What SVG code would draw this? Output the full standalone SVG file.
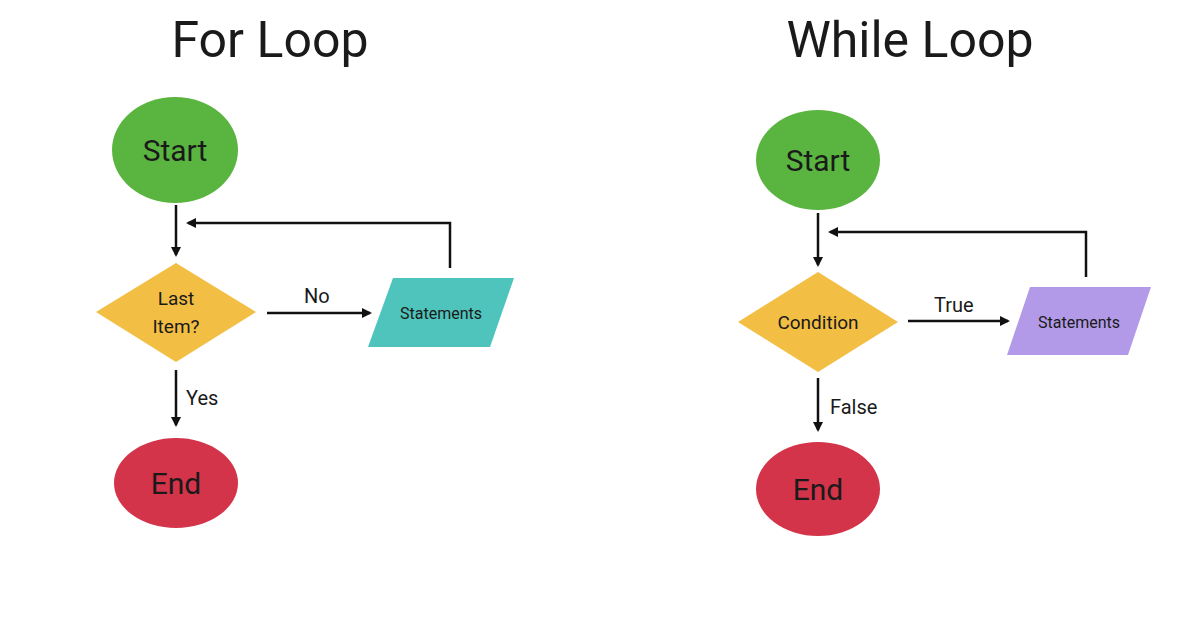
<svg xmlns="http://www.w3.org/2000/svg" width="1196" height="628" viewBox="0 0 1196 628">
<style>
text{font-family:"Roboto","Liberation Sans",sans-serif;fill:#1a1a1a}
.t{font-size:50px;text-anchor:middle}
.n{font-size:30px;text-anchor:middle;dominant-baseline:central}
.s{font-size:19px;text-anchor:middle;dominant-baseline:central}
.l{font-size:20px}
.c{fill:none;stroke:#111;stroke-width:2.5;marker-end:url(#a)}
</style>
<defs><marker id="a" markerWidth="10" markerHeight="10" refX="8" refY="5" orient="auto" markerUnits="userSpaceOnUse"><path d="M0,0 L10,5 L0,10 z" fill="#111"/></marker></defs>
<rect width="1196" height="628" fill="#fff"/>
<text class="t" x="270" y="57">For Loop</text>
<text class="t" x="910" y="57">While Loop</text>
<g id="connectors">
<path class="c" d="M176,205 V255"/>
<path class="c" d="M267,313 H370"/>
<path class="c" d="M450,268 V223 H188"/>
<path class="c" d="M176,370 V425"/>
<path class="c" d="M818,213 V265"/>
<path class="c" d="M908,321 H1008"/>
<path class="c" d="M1086,277 V232 H830"/>
<path class="c" d="M818,378 V430"/>
</g>
<text class="l" x="304" y="303">No</text>
<text class="l" x="186" y="405">Yes</text>
<text class="l" x="934" y="312">True</text>
<text class="l" x="830" y="414">False</text>
<g id="start1"><ellipse cx="175" cy="150" rx="63" ry="53" fill="#5ab540"/><text class="n" x="175" y="150">Start</text></g>
<g id="cond1"><polygon points="176,263 256,312 176,362 96,312" fill="#f2bf44"/><text class="s" x="176" y="298">Last</text><text class="s" x="176" y="326">Item?</text></g>
<g id="stmt1"><polygon points="393,278 514,278 490,347 368,347" fill="#4fc4bc"/><text class="s" x="441" y="313" style="font-size:16px">Statements</text></g>
<g id="end1"><ellipse cx="176" cy="483" rx="62" ry="45" fill="#d3344a"/><text class="n" x="176" y="483">End</text></g>
<g id="start2"><ellipse cx="818" cy="160" rx="62" ry="50" fill="#5ab540"/><text class="n" x="818" y="160">Start</text></g>
<g id="cond2"><polygon points="818,272 898,322 818,372 738,322" fill="#f2bf44"/><text class="s" x="818" y="322">Condition</text></g>
<g id="stmt2"><polygon points="1030,287 1151,287 1128,355 1007,355" fill="#b39ae8"/><text class="s" x="1079" y="322" style="font-size:16px">Statements</text></g>
<g id="end2"><ellipse cx="818" cy="489" rx="62" ry="47" fill="#d3344a"/><text class="n" x="818" y="489">End</text></g>
</svg>
